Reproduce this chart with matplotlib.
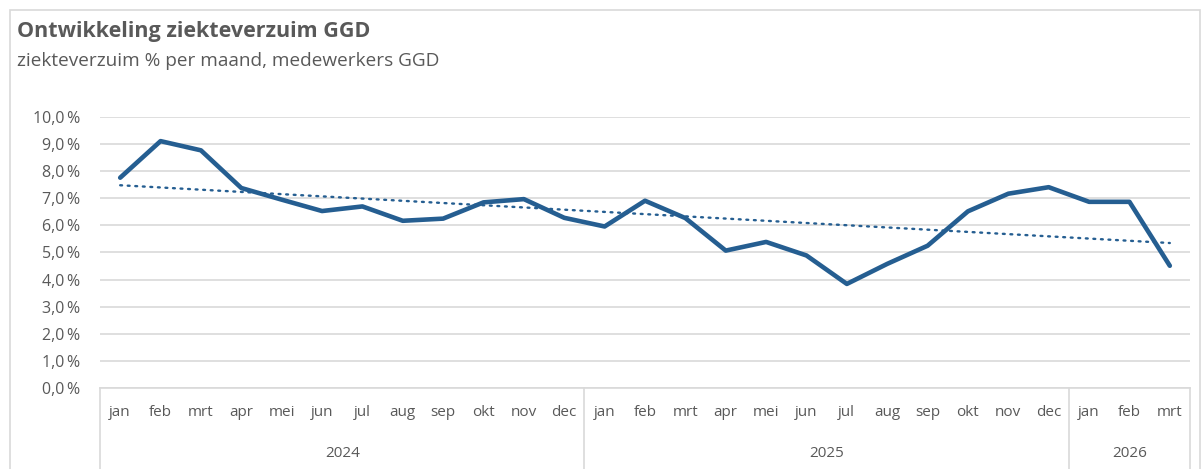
import numpy as np
import matplotlib.pyplot as plt
from matplotlib.patches import Rectangle
import matplotlib.transforms as mtransforms

months = ['jan', 'feb', 'mrt', 'apr', 'mei', 'jun', 'jul', 'aug', 'sep', 'okt', 'nov', 'dec',
          'jan', 'feb', 'mrt', 'apr', 'mei', 'jun', 'jul', 'aug', 'sep', 'okt', 'nov', 'dec',
          'jan', 'feb', 'mrt']
years = ['2024', '2025', '2026']
months_per_year = [12, 12, 3]

verzuim = [7.76, 9.11, 8.77, 7.38, 6.95, 6.53, 6.70, 6.17, 6.25, 6.85, 6.97, 6.28,
           5.96, 6.91, 6.27, 5.07, 5.39, 4.89, 3.84, 4.58, 5.25, 6.52, 7.17, 7.41,
           6.87, 6.87, 4.51]

blue = '#255E91'
grey_text = '#595959'
grid_col = '#D9D9D9'

plt.rcParams['font.family'] = ['Open Sans', 'DejaVu Sans']

fig = plt.figure(figsize=(12.02, 4.69), dpi=100)
ax = fig.add_axes([100 / 1202, 1 - 388 / 469, 1090 / 1202, 271 / 469])

# rand om de grafiek
fig.patches.append(Rectangle((10 / 1202, -0.01), 1190 / 1202, 1 - 10 / 469 + 0.01,
                             transform=fig.transFigure, fill=False,
                             edgecolor=grid_col, lw=1.2))

x = np.arange(len(verzuim))
ax.plot(x, verzuim, color=blue, lw=3.3, solid_joinstyle='round',
        solid_capstyle='round', zorder=3)

# lineaire trendlijn
coef = np.polyfit(x, verzuim, 1)
ax.plot(x, np.polyval(coef, x), color=blue, lw=1.7, linestyle=(0, (0.8, 2.4)),
        dash_capstyle='round', zorder=2)

ax.set_xlim(-0.5, len(verzuim) - 0.5)
ax.set_ylim(0, 10)
ax.set_yticks(np.arange(0, 11, 1))
ax.set_yticklabels([f'{v:.1f}\u2009%'.replace('.', ',') for v in range(11)],
                   color=grey_text, fontsize=11.5)
ax.tick_params(axis='y', length=0, pad=14)
ax.tick_params(axis='x', length=0)
ax.set_xticks([])
ax.grid(axis='y', color=grid_col, lw=1.2)
ax.set_axisbelow(True)
for s in ['top', 'right', 'left']:
    ax.spines[s].set_visible(False)
ax.spines['bottom'].set_color(grid_col)
ax.spines['bottom'].set_linewidth(1.2)

trans = mtransforms.blended_transform_factory(ax.transData, ax.transAxes)

# maandlabels
for i, m in enumerate(months):
    ax.text(i, -0.092, m, transform=trans, ha='center', va='center',
            color=grey_text, fontsize=11)

# jaarlabels en scheidingslijnen
start = 0
ax.plot([-0.5, -0.5], [0, -0.31], transform=trans, color=grid_col, lw=1.2, clip_on=False)
for yr, n in zip(years, months_per_year):
    end = start + n
    ax.plot([end - 0.5, end - 0.5], [0, -0.31], transform=trans, color=grid_col,
            lw=1.2, clip_on=False)
    ax.text((start + end - 1) / 2, -0.24, yr, transform=trans, ha='center', va='center',
            color=grey_text, fontsize=11)
    start = end

fig.text(17 / 1202, 1 - 31 / 469, 'Ontwikkeling ziekteverzuim GGD', fontsize=15.5,
         fontweight='bold', color=grey_text, va='center')
fig.text(17 / 1202, 1 - 61 / 469, 'ziekteverzuim % per maand, medewerkers GGD',
         fontsize=13.7, color=grey_text, va='center')

fig.savefig('out.png', dpi=100)
